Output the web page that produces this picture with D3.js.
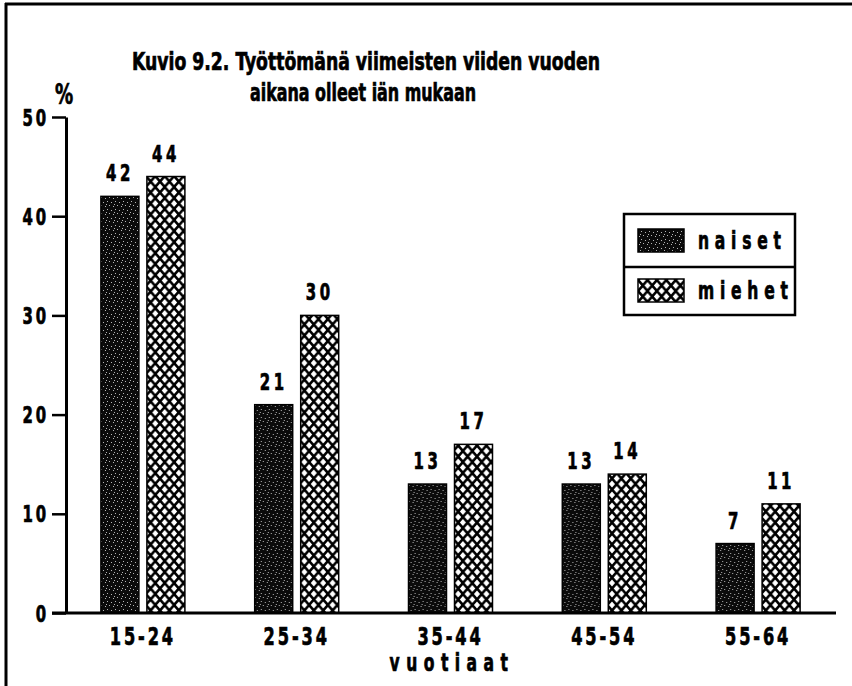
<!DOCTYPE html>
<html>
<head>
<meta charset="utf-8">
<script src="https://cdn.jsdelivr.net/npm/d3@7"></script>
<style>
  html, body { margin: 0; padding: 0; background: #fff; }
  svg { display: block; }
  text { font-family: "DejaVu Sans Condensed", "DejaVu Sans", sans-serif; font-weight: bold; fill: #000; }
  .heavy { stroke: #000; stroke-width: 0.7; }
</style>
</head>
<body>
<svg id="chart" width="852" height="686"></svg>
<script>
// Age groups and shares (%) of those unemployed during the last five years
const ageGroups = ["15-24", "25-34", "35-44", "45-54", "55-64"];
const seriesNames = ["naiset", "miehet"];
const naiset = [42, 21, 13, 13, 7];
const miehet = [44, 30, 17, 14, 11];
const yTicks = [0, 10, 20, 30, 40, 50];
const titleLines = ["Kuvio 9.2. Työttömänä viimeisten viiden vuoden", "aikana olleet iän mukaan"];
const xTitle = "vuotiaat";
const yUnit = "%";

const rows = ageGroups.map((g, i) => ({ group: g, naiset: naiset[i], miehet: miehet[i] }));

// horizontal squeeze used for the narrow lettering
const SX = 0.72;

const svg = d3.select("#chart");

// Hatch patterns for the two series
const defs = svg.append("defs");
const stipple = defs.append("pattern")
  .attr("id", "pat-naiset").attr("patternUnits", "userSpaceOnUse")
  .attr("width", 8).attr("height", 8);
stipple.append("rect").attr("width", 8).attr("height", 8).attr("fill", "#0b0b0b");
[[1, 1], [5, 2], [3, 5], [7, 6], [0, 4]].forEach(([dx, dy]) => {
  stipple.append("rect").attr("x", dx).attr("y", dy).attr("width", 1).attr("height", 1).attr("fill", "#b5b5b5");
});
const PW = 9.4, PH = 11, DA = 3.0, DB = 3.6;
const diamond = (cx, cy) => `M${cx},${cy - DB} L${cx + DA},${cy} L${cx},${cy + DB} L${cx - DA},${cy} Z`;
const lattice = defs.append("pattern")
  .attr("id", "pat-miehet").attr("patternUnits", "userSpaceOnUse")
  .attr("width", PW).attr("height", PH);
lattice.append("rect").attr("width", PW).attr("height", PH).attr("fill", "#000");
lattice.append("path")
  .attr("d", [diamond(PW / 2, PH / 2), diamond(0, 0), diamond(PW, 0), diamond(0, PH), diamond(PW, PH)].join(" "))
  .attr("fill", "#fff");

const fills = { naiset: "url(#pat-naiset)", miehet: "url(#pat-miehet)" };

// Narrow heavy label helper
function cond(sel, x, y, size, anchor, spacing) {
  return sel.attr("transform", `translate(${x},${y}) scale(${SX},1)`)
    .attr("font-size", size)
    .attr("text-anchor", anchor || "start")
    .attr("letter-spacing", spacing || 0)
    .attr("class", "heavy");
}

// Page frame (top and left rules)
svg.append("line").attr("x1", 5).attr("y1", 4).attr("x2", 852).attr("y2", 4)
  .attr("stroke", "#000").attr("stroke-width", 3);
svg.append("line").attr("x1", 6).attr("y1", 3).attr("x2", 6).attr("y2", 686)
  .attr("stroke", "#000").attr("stroke-width", 3);

// Scales
const y = d3.scaleLinear().domain([0, 50]).range([613, 117]);
const x0 = d3.scaleBand().domain(ageGroups).range([66, 835]).paddingInner(0).paddingOuter(0);
const inner = 84;
const x1 = d3.scaleBand().domain(seriesNames)
  .range([x0.bandwidth() / 2 - inner / 2, x0.bandwidth() / 2 + inner / 2])
  .paddingInner(2 - inner / 46).paddingOuter(0);

// Bars
const groups = svg.append("g").selectAll("g").data(rows).join("g")
  .attr("transform", d => `translate(${x0(d.group)},0)`);

groups.selectAll("rect")
  .data(d => seriesNames.map(k => ({ key: k, value: d[k] })))
  .join("rect")
  .attr("x", d => x1(d.key))
  .attr("y", d => y(d.value))
  .attr("width", x1.bandwidth())
  .attr("height", d => y(0) - y(d.value))
  .attr("fill", d => fills[d.key])
  .attr("stroke", "#000")
  .attr("stroke-width", 1.5);

groups.selectAll("text.val")
  .data(d => seriesNames.map(k => ({ key: k, value: d[k] })))
  .join("text")
  .each(function (d) {
    cond(d3.select(this), x1(d.key) + x1.bandwidth() / 2, y(d.value) - 15, 23, "middle", 5);
  })
  .text(d => d.value);

// Y axis
const yAxis = svg.append("g").attr("transform", "translate(66,0)")
  .call(d3.axisLeft(y).tickValues(yTicks).tickSize(14).tickSizeOuter(0).tickPadding(2));
yAxis.select(".domain").attr("stroke-width", 3);
yAxis.selectAll(".tick line").attr("stroke-width", 2.5);
yAxis.selectAll(".tick text").each(function () {
  const t = d3.select(this);
  t.attr("x", null).attr("dy", null);
  cond(t, -17, 8, 23, "end", 4);
});

// X axis baseline and category labels
svg.append("line").attr("x1", 52).attr("x2", 836).attr("y1", y(0)).attr("y2", y(0))
  .attr("stroke", "#000").attr("stroke-width", 3);
const xAxis = svg.append("g").attr("transform", `translate(0,${y(0)})`)
  .call(d3.axisBottom(x0).tickSize(0));
xAxis.select(".domain").remove();
xAxis.selectAll(".tick text").each(function () {
  const t = d3.select(this);
  t.attr("y", null).attr("dy", null);
  cond(t, 0, 32, 25, "middle", 4);
});

cond(svg.append("text"), 452, 671, 24, "middle", 9).text(xTitle);

cond(svg.append("text"), 64, 104, 28, "middle", 0).text(yUnit);

// Title
svg.append("text").attr("x", 132).attr("y", 70).attr("font-size", 25).attr("class", "heavy")
  .attr("textLength", 468).attr("lengthAdjust", "spacingAndGlyphs").text(titleLines[0]);
svg.append("text").attr("x", 250).attr("y", 101).attr("font-size", 25).attr("class", "heavy")
  .attr("textLength", 226).attr("lengthAdjust", "spacingAndGlyphs").text(titleLines[1]);

// Legend
const legend = svg.append("g").attr("transform", "translate(624,214)");
legend.append("rect").attr("width", 171).attr("height", 101)
  .attr("fill", "#fff").attr("stroke", "#000").attr("stroke-width", 2.5);
legend.append("line").attr("x1", 0).attr("x2", 171).attr("y1", 53).attr("y2", 53)
  .attr("stroke", "#000").attr("stroke-width", 2.5);
seriesNames.forEach((k, i) => {
  legend.append("rect").attr("x", 14).attr("y", 15 + i * 50).attr("width", 46).attr("height", 23)
    .attr("fill", fills[k]).attr("stroke", "#000").attr("stroke-width", 1.5);
  cond(legend.append("text"), 74, 35 + i * 50, 24, "start", 8).text(k);
});
</script>
</body>
</html>
